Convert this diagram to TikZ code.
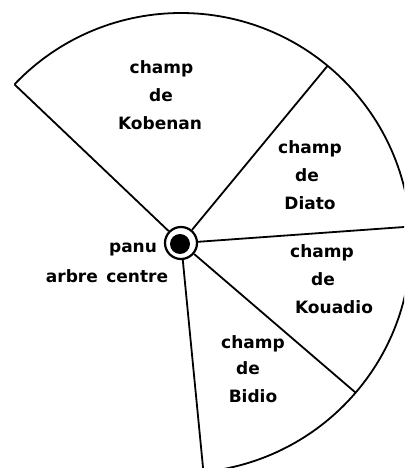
\documentclass[tikz,border=0pt]{standalone}
\usepackage{fontspec}
\setmainfont{DejaVu Sans}
\usetikzlibrary{calc}
\begin{document}
\begin{tikzpicture}[x=1pt,y=1pt,
  lbl/.style={anchor=base, inner sep=0pt, font=\fontsize{17}{20}\selectfont\bfseries},
  edge/.style={line width=1.8pt}]
\useasboundingbox (0,0) rectangle (404,468);
\begin{scope}
\clip (0,0) rectangle (404,468);
\coordinate (C) at (181,225);
\node[circle, draw, line width=2.2pt, minimum size=32pt, inner sep=0pt] (ring) at (C) {};
\node[circle, fill=black, minimum size=20pt, inner sep=0pt] (dot) at (180,224) {};
\coordinate (e1) at ($(C)+(136.4:230)$);
\coordinate (e2) at ($(C)+(50.4:230)$);
\coordinate (e3) at ($(C)+(4.1:230)$);
\coordinate (e4) at ($(C)+(-40.6:230)$);
\coordinate (e5) at ($(C)+(-84.4:230)$);
\draw[edge] (ring.136.4) -- (e1);
\draw[edge] (ring.50.4) -- (e2);
\draw[edge] (ring.4.1) -- (e3);
\draw[edge] (ring.-40.6) -- (e4);
\draw[edge] (ring.-84.4) -- (e5);
\draw[edge] (e1) arc[start angle=136.4, end angle=-84.4, radius=230];
\end{scope}
% Kobenan
\node[lbl] (k1) at (161.5,394) {champ};
\node[lbl] (k2) at (161,366) {de};
\node[lbl] (k3) at (160,338) {Kobenan};
% Diato
\node[lbl] (d1) at (310,314) {champ};
\node[lbl] (d2) at (307,286) {de};
\node[lbl] (d3) at (310,258) {Diato};
% Kouadio
\node[lbl] (q1) at (322,210) {champ};
\node[lbl] (q2) at (323,182) {de};
\node[lbl] (q3) at (334,154) {Kouadio};
% Bidio
\node[lbl] (b1) at (253,119) {champ};
\node[lbl] (b2) at (248,93) {de};
\node[lbl] (b3) at (253,65) {Bidio};
% centre
\node[lbl] (p1) at (133,215) {panu};
\node[lbl] (p2) at (107,185) {arbre\hspace{0.5em}centre};
\end{tikzpicture}
\end{document}
